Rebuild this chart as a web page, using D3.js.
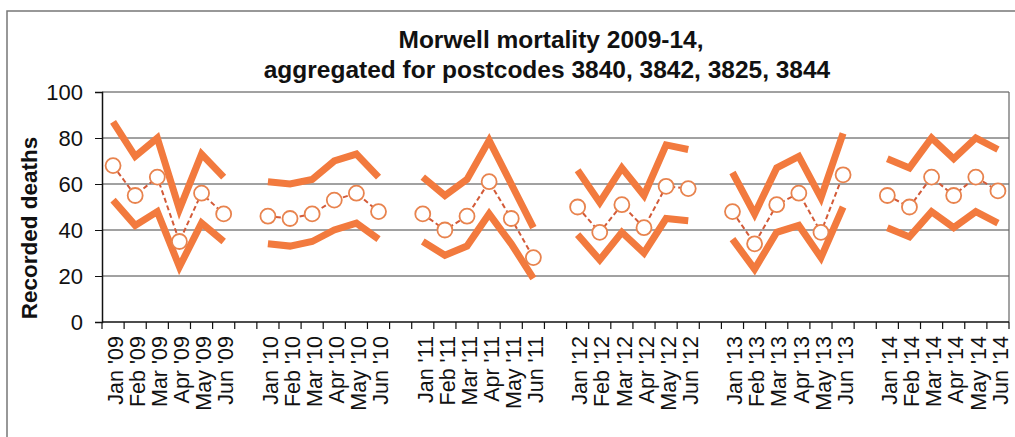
<!DOCTYPE html>
<html lang="en">
    <head>
        <meta charset="utf-8">
        <title>Morwell mortality 2009-14</title>
        <script src="https://d3js.org/d3.v7.min.js"></script>
        <style type="text/css">
            body { margin: 0; background: #fff; }
            svg { font-family: "Liberation Sans", Arial, sans-serif; }
            .title { font-size: 24.5px; font-weight: bold; fill: #111; }
            .ytitle { font-size: 22.5px; font-weight: bold; fill: #111; }
            .yaxis text { font-size: 22px; fill: #111; }
            .xlab { font-size: 21.5px; fill: #111; }
        </style>
    </head>
    <body>
        <svg width="1015" height="437"></svg>
        <script type="text/javascript">

            // data
            const years = ["09", "10", "11", "12", "13", "14"];
            const months = ["Jan", "Feb", "Mar", "Apr", "May", "Jun"];
            const yTicks = [0, 20, 40, 60, 80, 100];

            const upper = [
                [87, 72, 80, 49, 73, 63],
                [61, 60, 62, 70, 73, 63],
                [63, 55, 62, 79, 60, 41],
                [66, 52, 67, 55, 77, 75],
                [65, 47, 67, 72, 54, 82],
                [71, 67, 80, 71, 80, 75]
            ];
            const lower = [
                [53, 42, 48, 24, 43, 35],
                [34, 33, 35, 40, 43, 36],
                [35, 29, 33, 47, 34, 19],
                [38, 27, 39, 30, 45, 44],
                [36, 23, 39, 42, 28, 50],
                [41, 37, 48, 41, 48, 43]
            ];
            const mean = [
                [68, 55, 63, 35, 56, 47],
                [46, 45, 47, 53, 56, 48],
                [47, 40, 46, 61, 45, 28],
                [50, 39, 51, 41, 59, 58],
                [48, 34, 51, 56, 39, 64],
                [55, 50, 63, 55, 63, 57]
            ];

            // categories: 6 months per year, an empty slot between years
            const cats = [];
            years.forEach((y, yi) => {
                months.forEach(m => cats.push({key: m + y, label: m + " '" + y}));
                if (yi < years.length - 1) cats.push({key: "gap" + y, label: ""});
            });

            const svg = d3.select("svg");
            const pLeft = 102, pRight = 1009, pTop = 92, pBottom = 322;

            const x = d3.scaleBand().domain(cats.map(d => d.key)).range([pLeft, pRight]);
            const y = d3.scaleLinear().domain([0, 100]).range([pBottom, pTop]);

            // chart frame
            svg.append("rect")
               .attr("x", 7).attr("y", 11)
               .attr("width", 1030).attr("height", 450)
               .attr("fill", "none").attr("stroke", "#777").attr("stroke-width", 1.5);

            // title
            svg.append("text").attr("class", "title")
               .attr("x", 551).attr("y", 48).attr("text-anchor", "middle")
               .text("Morwell mortality 2009-14,");
            svg.append("text").attr("class", "title")
               .attr("x", 547).attr("y", 78).attr("text-anchor", "middle")
               .text("aggregated for postcodes 3840, 3842, 3825, 3844");

            // gridlines
            svg.append("g").selectAll("line")
               .data(yTicks.filter(d => d > 0))
               .enter().append("line")
               .attr("x1", pLeft).attr("x2", pRight)
               .attr("y1", d => y(d)).attr("y2", d => y(d))
               .attr("stroke", "#444").attr("stroke-width", 1);

            // right edge of plot area
            svg.append("line")
               .attr("x1", pRight).attr("x2", pRight)
               .attr("y1", pTop).attr("y2", pBottom)
               .attr("stroke", "#666").attr("stroke-width", 1.2);

            // y axis
            const yAxis = svg.append("g").attr("class", "yaxis")
                             .attr("transform", `translate(${pLeft},0)`)
                             .call(d3.axisLeft(y).tickValues(yTicks).tickSize(7).tickPadding(12));
            yAxis.select(".domain").attr("stroke", "#111").attr("stroke-width", 1.5);
            yAxis.selectAll(".tick line").attr("stroke", "#111");
            yAxis.attr("font-family", null).attr("font-size", null);
            yAxis.selectAll("text").attr("dy", "0.36em");

            svg.append("text").attr("class", "ytitle")
               .attr("transform", "translate(37,228) rotate(-90)")
               .attr("text-anchor", "middle")
               .text("Recorded deaths");

            // x axis line and ticks between categories
            svg.append("line")
               .attr("x1", pLeft).attr("x2", pRight)
               .attr("y1", pBottom).attr("y2", pBottom)
               .attr("stroke", "#111").attr("stroke-width", 1.5);
            const bounds = cats.map(d => x(d.key)).concat([pRight]);
            svg.append("g").selectAll("line")
               .data(bounds)
               .enter().append("line")
               .attr("x1", d => d).attr("x2", d => d)
               .attr("y1", pBottom).attr("y2", pBottom + 7)
               .attr("stroke", "#111").attr("stroke-width", 1.2);

            // x labels
            svg.append("g").selectAll("text")
               .data(cats.filter(d => d.label))
               .enter().append("text")
               .attr("class", "xlab")
               .attr("transform", d => `translate(${x(d.key) + x.bandwidth() / 2 + 2},336) rotate(-90)`)
               .attr("text-anchor", "end")
               .attr("dy", "0.36em")
               .text(d => d.label);

            // series, one segment per year
            const line = d3.line()
                           .x((d, i) => x(months[i] + d.yr) + x.bandwidth() / 2)
                           .y(d => y(d.v));

            const orange = "#F27A3E";
            const seg = arr => arr.map((vals, yi) => vals.map(v => ({v: v, yr: years[yi]})));

            svg.append("g").selectAll("path")
               .data(seg(upper).concat(seg(lower)))
               .enter().append("path")
               .attr("d", line)
               .attr("fill", "none")
               .attr("stroke", orange)
               .attr("stroke-width", 7)
               .attr("stroke-linejoin", "miter");

            const meanSeg = seg(mean);
            svg.append("g").selectAll("path")
               .data(meanSeg)
               .enter().append("path")
               .attr("d", line)
               .attr("fill", "none")
               .attr("stroke", "#D35A38")
               .attr("stroke-width", 2)
               .attr("stroke-dasharray", "5,3");

            svg.append("g").selectAll("circle")
               .data(meanSeg.flatMap(s => s.map((d, i) => ({v: d.v, yr: d.yr, m: months[i]}))))
               .enter().append("circle")
               .attr("cx", d => x(d.m + d.yr) + x.bandwidth() / 2)
               .attr("cy", d => y(d.v))
               .attr("r", 7.5)
               .attr("fill", "#fff")
               .attr("stroke", "#E8834E")
               .attr("stroke-width", 1.8);

        </script>
    </body>
</html>
